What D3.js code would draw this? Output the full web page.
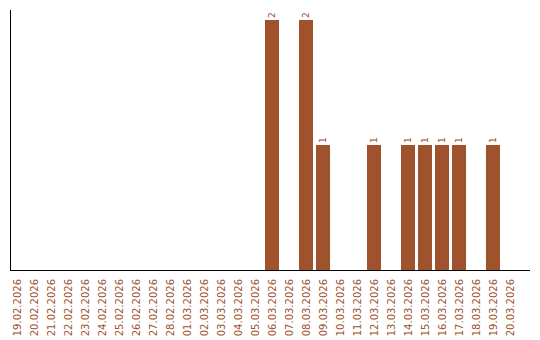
<!DOCTYPE html>
<html>
<head>
<meta charset="utf-8">
<script src="https://cdn.jsdelivr.net/npm/d3@7"></script>
<style>
  body { margin: 0; background: #fff; }
  .tick-label { font: 10px "DejaVu Sans", Verdana, sans-serif; fill: #a0522d; }
  .value-label { font: 9px "DejaVu Sans", Verdana, sans-serif; fill: #a0522d; }
  .bar { fill: #a0522d; }
  .axis-line { stroke: #000; stroke-width: 1; shape-rendering: crispEdges; }
</style>
</head>
<body>
<div id="chart"></div>
<script>
const dates = [
  '19.02.2026', '20.02.2026', '21.02.2026', '22.02.2026', '23.02.2026',
  '24.02.2026', '25.02.2026', '26.02.2026', '27.02.2026', '28.02.2026',
  '01.03.2026', '02.03.2026', '03.03.2026', '04.03.2026', '05.03.2026',
  '06.03.2026', '07.03.2026', '08.03.2026', '09.03.2026', '10.03.2026',
  '11.03.2026', '12.03.2026', '13.03.2026', '14.03.2026', '15.03.2026',
  '16.03.2026', '17.03.2026', '18.03.2026', '19.03.2026', '20.03.2026'
]
const counts = [
  0, 0, 0, 0, 0,
  0, 0, 0, 0, 0,
  0, 0, 0, 0, 0,
  2, 0, 2, 1, 0,
  0, 1, 0, 1, 1,
  1, 1, 0, 1, 0
]

const width = 540
const height = 340
const margin = { left: 10, top: 10, right: 530, bottom: 270 }

const svg = d3.select('#chart')
  .append('svg')
    .attr('width', width)
    .attr('height', height)

const data = dates.map((d, i) => ({ date: d, value: counts[i] }))

// X
const xScale = d3.scaleBand()
  .domain(dates)
  .range([margin.left, margin.left + 17 * dates.length - 3])
  .paddingInner(3 / 17)
  .paddingOuter(0)

// Y
const yScale = d3.scaleLinear()
  .domain([0, 2])
  .range([margin.bottom, 20])

// BARS
svg.append('g')
  .selectAll('.bar')
  .data(data.filter(d => d.value > 0))
  .enter().append('rect')
    .attr('class', 'bar')
    .attr('x', d => xScale(d.date))
    .attr('y', d => yScale(d.value))
    .attr('width', xScale.bandwidth())
    .attr('height', d => margin.bottom - yScale(d.value))

// VALUE LABELS
svg.append('g')
  .selectAll('.value-label')
  .data(data.filter(d => d.value > 0))
  .enter().append('text')
    .attr('class', 'value-label')
    .attr('text-anchor', 'start')
    .attr('transform', d => `translate(${xScale(d.date) + xScale.bandwidth() / 2 + 3} ${yScale(d.value) - 2}) rotate(-90)`)
    .text(d => d.value)

// AXES
svg.append('line')
  .attr('class', 'axis-line')
  .attr('x1', margin.left + 0.5).attr('x2', margin.left + 0.5)
  .attr('y1', margin.top).attr('y2', margin.bottom)

svg.append('line')
  .attr('class', 'axis-line')
  .attr('x1', margin.left).attr('x2', margin.right)
  .attr('y1', margin.bottom + 0.5).attr('y2', margin.bottom + 0.5)

// TICK LABELS
svg.append('g')
  .selectAll('.tick-label')
  .data(dates)
  .enter().append('text')
    .attr('class', 'tick-label')
    .attr('text-anchor', 'end')
    .attr('transform', d => `translate(${xScale(d) + xScale.bandwidth() / 2 + 3.5} 279) rotate(-90)`)
    .text(d => d)
</script>
</body>
</html>
